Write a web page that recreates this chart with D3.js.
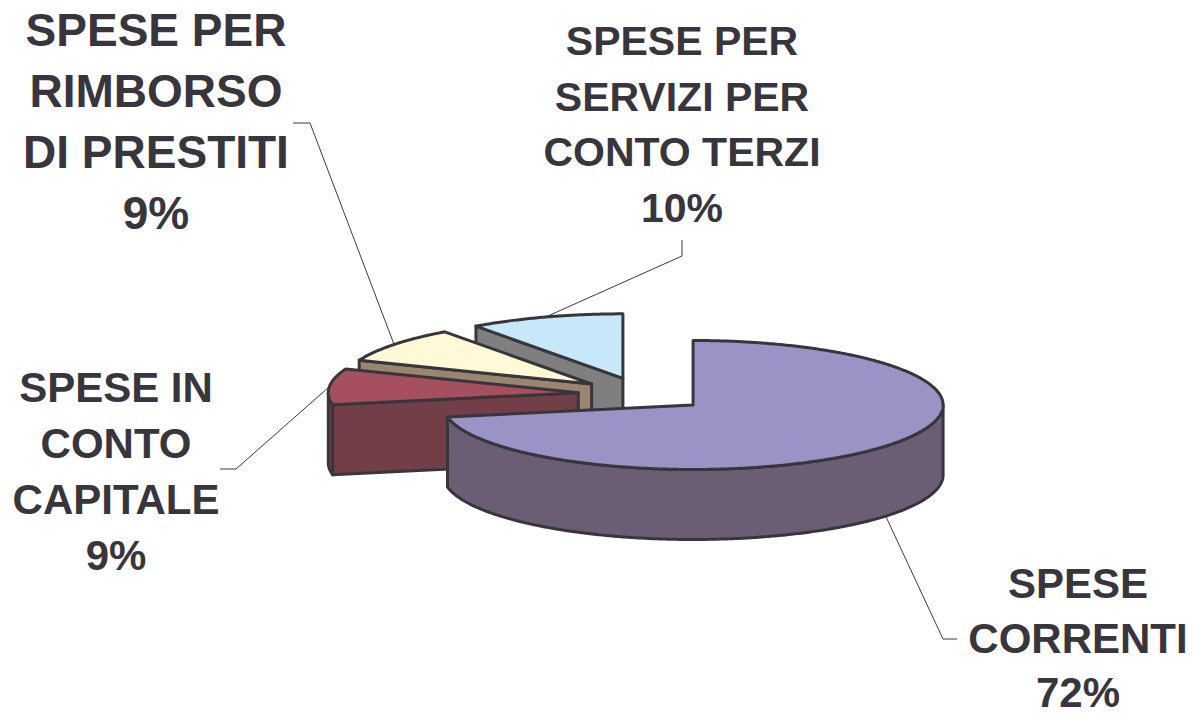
<!DOCTYPE html>
<html><head><meta charset="utf-8">
<script src="https://cdn.jsdelivr.net/npm/d3@7"></script>
<style>html,body{margin:0;padding:0;background:#fff;} svg{display:block;}</style>
</head><body>
<svg id="c" width="1194" height="715"></svg>
<script>
// ---- data ----
const categories = ["SPESE CORRENTI", "SPESE IN CONTO CAPITALE", "SPESE PER RIMBORSO DI PRESTITI", "SPESE PER SERVIZI PER CONTO TERZI"];
const values = [72, 9, 9, 10];
const labelLines = [["SPESE", "CORRENTI"], ["SPESE IN", "CONTO", "CAPITALE"], ["SPESE PER", "RIMBORSO", "DI PRESTITI"], ["SPESE PER", "SERVIZI PER", "CONTO TERZI"]];
const topColors = ["#9A93C6", "#A64F5E", "#FFF9D8", "#C7E8F8"];
const sideColors = ["#6A5D74", "#723F49", "#9A8670", "#7F7F7F"];

// ---- layout ----
const W = 1194, H = 715;
const cx = 643, cy = 394.3, rx = 250, ry = 64.5, depth = 70, explode = 0.26;
const outline = "#38363C";
const textColor = "#38363C";
const labelLayout = [
  {x: 1078, y0: 598, pitch: 54.5, size: 42, leader: [[943, 639], [957, 639]]},
  {x: 116, y0: 402, pitch: 56, size: 42, leader: [[236, 469], [220, 469]]},
  {x: 156, y0: 46, pitch: 61, size: 46, leader: [[310, 123], [293, 123]]},
  {x: 682, y0: 55, pitch: 55.7, size: 41, leader: [[682, 256], [682, 240]]}
];

const svg = d3.select("#c");
svg.append("rect").attr("width", W).attr("height", H).attr("fill", "#fff");

const pie = d3.pie().sort(null).startAngle(0).endAngle(2 * Math.PI);
const arcs = pie(values);
const total = d3.sum(values);
const pct = d3.format(".0%");

function pt(c, a, r, h) { return [c[0] + rx * r * Math.sin(a), c[1] - ry * r * Math.cos(a) + (h || 0)]; }
function arcPts(c, a0, a1, h) {
  const n = Math.max(2, Math.ceil(Math.abs(a1 - a0) / (Math.PI / 360)));
  return d3.range(n + 1).map(i => pt(c, a0 + (a1 - a0) * i / n, 1, h));
}
const line = d3.line();
const closed = pts => line(pts) + "Z";

const slices = arcs.map((d, i) => {
  const mid = (d.startAngle + d.endAngle) / 2;
  const c = pt([cx, cy], mid, explode);
  return {d, i, mid, c};
});

const gPie = svg.append("g");
slices.slice().sort((a, b) => a.c[1] - b.c[1]).forEach(s => {
  const {d, i, c} = s;
  const a0 = d.startAngle, a1 = d.endAngle;
  const g = gPie.append("g");
  const style = sel => sel.attr("stroke", outline).attr("stroke-width", 3).attr("stroke-linejoin", "round");
  // outer wall
  const ws = Math.max(a0, Math.PI / 2), we = Math.min(a1, 3 * Math.PI / 2);
  if (we > ws) {
    const pts = arcPts(c, ws, we, 0).concat(arcPts(c, we, ws, depth));
    g.append("path").attr("d", closed(pts)).attr("fill", sideColors[i]).call(style);
  }
  // radial faces
  const face = a => [c, pt(c, a, 1, 0), pt(c, a, 1, depth), [c[0], c[1] + depth]];
  if (Math.sin(a0) < -1e-6) g.append("path").attr("d", closed(face(a0))).attr("fill", sideColors[i]).call(style);
  if (Math.sin(a1) > 1e-6) g.append("path").attr("d", closed(face(a1))).attr("fill", sideColors[i]).call(style);
  // top
  const topPts = [c].concat(arcPts(c, a0, a1, 0));
  g.append("path").attr("d", closed(topPts)).attr("fill", topColors[i]).call(style);
});

// leader lines and labels
const gLab = svg.append("g");
slices.forEach(s => {
  const L = labelLayout[s.i];
  const front = Math.cos(s.mid) < 0;
  const start = pt(s.c, s.mid, 1, front ? depth : 0);
  gLab.append("path").attr("d", line([start].concat(L.leader)))
    .attr("fill", "none").attr("stroke", "#3a3a3a").attr("stroke-width", 1);
  const lines = labelLines[s.i].concat([pct(values[s.i] / total)]);
  const t = gLab.append("text")
    .attr("text-anchor", "middle")
    .attr("font-family", "'Liberation Sans', Arial, Helvetica, sans-serif")
    .attr("font-weight", "bold")
    .attr("font-size", L.size)
    .attr("fill", textColor)
    .attr("aria-label", categories[s.i]);
  lines.forEach((ln, k) => {
    t.append("tspan").attr("x", L.x).attr("y", L.y0 + k * L.pitch).text(ln);
  });
});
</script>
</body></html>
